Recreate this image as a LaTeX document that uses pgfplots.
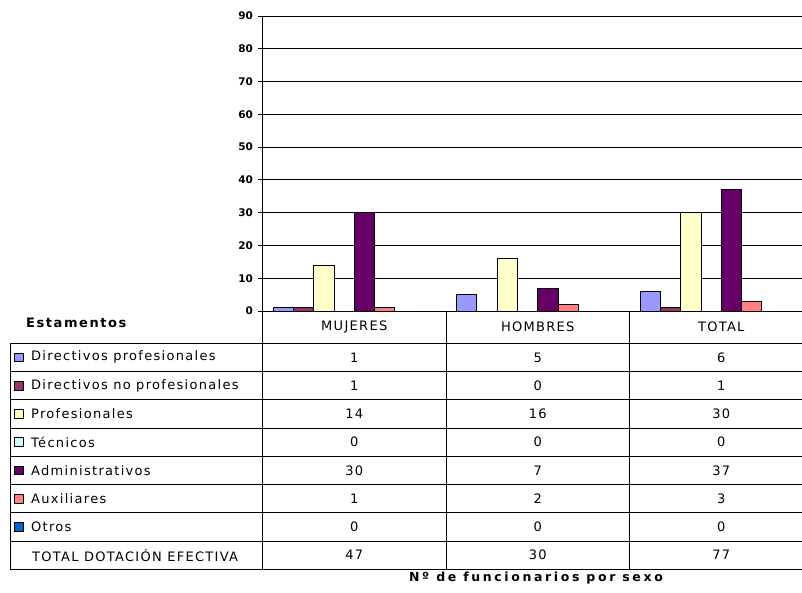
\documentclass[border=0pt]{standalone}
\usepackage{fontspec}
\setmainfont{DejaVu Sans}
\newfontfamily\boldsp[LetterSpace=21]{DejaVu Sans Bold}
\newfontfamily\boldhd[LetterSpace=12]{DejaVu Sans Bold}
\newfontfamily\tabfont[LetterSpace=10]{DejaVu Sans}
\usepackage{pgfplots}
\pgfplotsset{compat=1.18}

\definecolor{dirprof}{HTML}{9999FF}
\definecolor{dirnoprof}{HTML}{993366}
\definecolor{prof}{HTML}{FFFFCC}
\definecolor{tec}{HTML}{CCFFFF}
\definecolor{adm}{HTML}{660066}
\definecolor{aux}{HTML}{FF8080}
\definecolor{otros}{HTML}{0066CC}

\newcommand{\tf}{\tabfont\fontsize{13}{15}\selectfont}

\begin{document}
\begin{tikzpicture}[x=1pt,y=1pt]
\useasboundingbox (0,0) rectangle (802,592);
\clip (0,0) rectangle (802,592);

\begin{axis}[
  at={(262.5pt,281pt)}, anchor=south west,
  width=539.5pt, height=295pt, scale only axis,
  xmin=-0.5, xmax=2.44, ymin=0, ymax=90,
  ytick={0,10,...,90}, xtick=\empty,
  axis x line*=bottom, axis y line*=left,
  axis line style={black, line width=0.9pt, -},
  ymajorgrids, major grid style={black, line width=0.9pt},
  tick align=outside, major tick length=5pt,
  tick style={black, line width=0.8pt},
  /pgf/number format/assume math mode=true,
  yticklabel style={font=\bfseries\fontsize{10.5}{11}\selectfont, xshift=-1pt},
  ybar, bar width=0.1106,
  every axis plot/.append style={draw=black, line width=0.8pt},
]
% Directivos profesionales
\addplot[fill=dirprof, bar shift=-0.3871] coordinates {(0,1) (1,5) (2,6)};
% Directivos no profesionales
\addplot[fill=dirnoprof, bar shift=-0.2765] coordinates {(0,1) (1,0) (2,1)};
% Profesionales
\addplot[fill=prof, bar shift=-0.1659] coordinates {(0,14) (1,16) (2,30)};
% Tecnicos
\addplot[fill=tec, bar shift=-0.0553] coordinates {(0,0) (1,0) (2,0)};
% Administrativos
\addplot[fill=adm, bar shift=0.0553] coordinates {(0,30) (1,7) (2,37)};
% Auxiliares
\addplot[fill=aux, bar shift=0.1659] coordinates {(0,1) (1,2) (2,3)};
% Otros
\addplot[fill=otros, bar shift=0.2765] coordinates {(0,0) (1,0) (2,0)};
\end{axis}

% data table
\begin{scope}[line width=0.9pt]
  \foreach \yy in {248.7,220.5,192.2,164,135.7,107.5,79.2,51,22.7}
    \draw (10,\yy) -- (802,\yy);
  \draw (10,248.7) -- (10,22.7);
  \foreach \xx in {262.5,446,629.5}
    \draw (\xx,281) -- (\xx,22.7);
\end{scope}

\node[font=\boldhd\fontsize{13}{15}\selectfont, anchor=west, inner sep=0pt] at (26,269) {Estamentos};
\foreach \c/\name in {354.25/MUJERES,537.75/HOMBRES,721.25/TOTAL}
  \node[font=\tf] at (\c,265) {\name};

\foreach \lab/\col/\m/\h/\t/\yy in {
  Directivos profesionales/dirprof/1/5/6/234.6,
  Directivos no profesionales/dirnoprof/1/0/1/206.4,
  Profesionales/prof/14/16/30/178.1,
  Técnicos/tec/0/0/0/149.9,
  Administrativos/adm/30/7/37/121.6,
  Auxiliares/aux/1/2/3/93.4,
  Otros/otros/0/0/0/65.1}{
  \draw[fill=\col, line width=0.7pt] (14.5,\yy-4.3) rectangle (23.5,\yy+4.3);
  \node[font=\tf, anchor=west, inner sep=0pt] at (31,\yy) {\lab};
  \node[font=\tf] at (354.25,\yy) {\m};
  \node[font=\tf] at (537.75,\yy) {\h};
  \node[font=\tf] at (721.25,\yy) {\t};
}
\node[font=\tf, anchor=west, inner sep=0pt] at (32,36.9) {TOTAL DOTACIÓN EFECTIVA};
\node[font=\tf] at (354.25,36.9) {47};
\node[font=\tf] at (537.75,36.9) {30};
\node[font=\tf] at (721.25,36.9) {77};

\node[font=\boldsp\fontsize{12.5}{14}\selectfont] at (536,14) {Nº de funcionarios por sexo};
\end{tikzpicture}
\end{document}
